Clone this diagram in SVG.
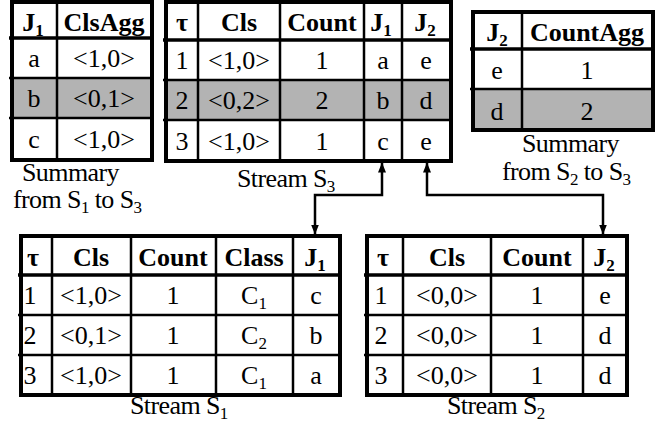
<svg xmlns="http://www.w3.org/2000/svg" width="665" height="426" viewBox="0 0 665 426">
  <style>
    .frame { fill: none; stroke: #000; stroke-width: 4; }
    .grid { stroke: #000; stroke-width: 2.5; }
    .shade { fill: #b3b3b3; }
    text { font-family: "Liberation Serif", "Times New Roman", serif; font-size: 26px; fill: #000; text-anchor: middle; }
    .hd { font-weight: bold; }
    .cap { text-anchor: start; letter-spacing: -0.6px; }
    .sub { font-size: 17px; }
    .wire { fill: none; stroke: #000; stroke-width: 2.5; }
  </style>
  <defs>
    <marker id="tip" viewBox="0 0 10 8" refX="9.5" refY="4" markerWidth="10" markerHeight="8" markerUnits="userSpaceOnUse" orient="auto-start-reverse">
      <path d="M0,0 L10,4 L0,8 Z" fill="#000"/>
    </marker>
  </defs>
  <rect width="665" height="426" fill="#fff"/>

  <!-- Summary from S1 to S3 -->
  <g id="summary-s1-s3">
    <rect class="shade" x="12" y="78" width="140" height="40"/>
    <line class="grid" x1="57" y1="0" x2="57" y2="160"/>
    <line class="grid" x1="9" y1="38" x2="152" y2="38" style="stroke-width:3.5"/>
    <line class="grid" x1="9" y1="78" x2="152" y2="78"/>
    <line class="grid" x1="9" y1="118" x2="152" y2="118"/>
    <rect class="frame" x="12" y="2" width="140" height="158"/>
    <text class="hd" x="33" y="31">J<tspan class="sub" dy="5">1</tspan></text>
    <text class="hd" x="104" y="31">ClsAgg</text>
    <text x="34" y="67">a</text><text x="104" y="67">&lt;1,0&gt;</text>
    <text x="34" y="107">b</text><text x="104" y="107">&lt;0,1&gt;</text>
    <text x="34" y="148">c</text><text x="104" y="148">&lt;1,0&gt;</text>
    <text class="cap" x="22" y="181">Summary</text>
    <text class="cap" x="13" y="208">from S<tspan class="sub" dy="5">1</tspan><tspan dy="-5"> to S</tspan><tspan class="sub" dy="5">3</tspan></text>
  </g>

  <!-- Stream S3 -->
  <g id="stream-s3">
    <rect class="shade" x="166" y="80" width="285" height="40"/>
    <line class="grid" x1="198" y1="0" x2="198" y2="161"/>
    <line class="grid" x1="280" y1="0" x2="280" y2="161"/>
    <line class="grid" x1="364" y1="0" x2="364" y2="161"/>
    <line class="grid" x1="402" y1="0" x2="402" y2="161"/>
    <line class="grid" x1="163" y1="40" x2="451" y2="40" style="stroke-width:3.5"/>
    <line class="grid" x1="163" y1="80" x2="451" y2="80"/>
    <line class="grid" x1="163" y1="120" x2="451" y2="120"/>
    <rect class="frame" x="166" y="2" width="285" height="159"/>
    <text class="hd" x="182" y="31">τ</text>
    <text class="hd" x="239" y="31">Cls</text>
    <text class="hd" x="322" y="31">Count</text>
    <text class="hd" x="381" y="31">J<tspan class="sub" dy="5">1</tspan></text>
    <text class="hd" x="425" y="31">J<tspan class="sub" dy="5">2</tspan></text>
    <text x="182" y="69">1</text><text x="239" y="69">&lt;1,0&gt;</text><text x="322" y="69">1</text><text x="383" y="69">a</text><text x="426" y="69">e</text>
    <text x="182" y="109">2</text><text x="239" y="109">&lt;0,2&gt;</text><text x="322" y="109">2</text><text x="383" y="109">b</text><text x="426" y="109">d</text>
    <text x="182" y="150">3</text><text x="239" y="150">&lt;1,0&gt;</text><text x="322" y="150">1</text><text x="383" y="150">c</text><text x="426" y="150">e</text>
    <text class="cap" x="237" y="187">Stream S<tspan class="sub" dy="5">3</tspan></text>
  </g>

  <!-- Summary from S2 to S3 -->
  <g id="summary-s2-s3">
    <rect class="shade" x="473" y="89" width="180" height="41"/>
    <line class="grid" x1="522" y1="10" x2="522" y2="130"/>
    <line class="grid" x1="470" y1="49" x2="653" y2="49" style="stroke-width:3.5"/>
    <line class="grid" x1="470" y1="89" x2="653" y2="89"/>
    <rect class="frame" x="473" y="12" width="180" height="118"/>
    <text class="hd" x="497" y="41">J<tspan class="sub" dy="5">2</tspan></text>
    <text class="hd" x="587" y="41">CountAgg</text>
    <text x="497" y="79">e</text><text x="587" y="79">1</text>
    <text x="497" y="120">d</text><text x="587" y="120">2</text>
    <text class="cap" x="522" y="152">Summary</text>
    <text class="cap" x="502" y="180">from S<tspan class="sub" dy="5">2</tspan><tspan dy="-5"> to S</tspan><tspan class="sub" dy="5">3</tspan></text>
  </g>

  <!-- Stream S1 -->
  <g id="stream-s1">
    <line class="grid" x1="52" y1="234" x2="52" y2="395"/>
    <line class="grid" x1="131" y1="234" x2="131" y2="395"/>
    <line class="grid" x1="216" y1="234" x2="216" y2="395"/>
    <line class="grid" x1="293" y1="234" x2="293" y2="395"/>
    <line class="grid" x1="18" y1="275" x2="340" y2="275" style="stroke-width:3.5"/>
    <line class="grid" x1="18" y1="315" x2="340" y2="315"/>
    <line class="grid" x1="18" y1="355" x2="340" y2="355"/>
    <rect class="frame" x="21" y="236" width="319" height="159"/>
    <text class="hd" x="33" y="266">τ</text>
    <text class="hd" x="91" y="266">Cls</text>
    <text class="hd" x="173" y="266">Count</text>
    <text class="hd" x="254" y="266">Class</text>
    <text class="hd" x="315" y="266">J<tspan class="sub" dy="5">1</tspan></text>
    <text x="30" y="304">1</text><text x="91" y="304">&lt;1,0&gt;</text><text x="173" y="304">1</text><text x="254" y="304">C<tspan class="sub" dy="5">1</tspan></text><text x="316" y="304">c</text>
    <text x="30" y="344">2</text><text x="91" y="344">&lt;0,1&gt;</text><text x="173" y="344">1</text><text x="254" y="344">C<tspan class="sub" dy="5">2</tspan></text><text x="316" y="344">b</text>
    <text x="30" y="384">3</text><text x="91" y="384">&lt;1,0&gt;</text><text x="173" y="384">1</text><text x="254" y="384">C<tspan class="sub" dy="5">1</tspan></text><text x="316" y="384">a</text>
    <text class="cap" x="130" y="414">Stream S<tspan class="sub" dy="5">1</tspan></text>
  </g>

  <!-- Stream S2 -->
  <g id="stream-s2">
    <line class="grid" x1="403" y1="234" x2="403" y2="395"/>
    <line class="grid" x1="491" y1="234" x2="491" y2="395"/>
    <line class="grid" x1="583" y1="234" x2="583" y2="395"/>
    <line class="grid" x1="364" y1="275" x2="627" y2="275" style="stroke-width:3.5"/>
    <line class="grid" x1="364" y1="315" x2="627" y2="315"/>
    <line class="grid" x1="364" y1="355" x2="627" y2="355"/>
    <rect class="frame" x="367" y="236" width="260" height="159"/>
    <text class="hd" x="383" y="266">τ</text>
    <text class="hd" x="447" y="266">Cls</text>
    <text class="hd" x="537" y="266">Count</text>
    <text class="hd" x="604" y="266">J<tspan class="sub" dy="5">2</tspan></text>
    <text x="381" y="304">1</text><text x="447" y="304">&lt;0,0&gt;</text><text x="537" y="304">1</text><text x="605" y="304">e</text>
    <text x="381" y="344">2</text><text x="447" y="344">&lt;0,0&gt;</text><text x="537" y="344">1</text><text x="605" y="344">d</text>
    <text x="381" y="384">3</text><text x="447" y="384">&lt;0,0&gt;</text><text x="537" y="384">1</text><text x="605" y="384">d</text>
    <text class="cap" x="447" y="414">Stream S<tspan class="sub" dy="5">2</tspan></text>
  </g>

  <!-- Join links between streams -->
  <g id="connectors">
    <path class="wire" d="M315,234 L315,195 L382,195 L382,163" marker-start="url(#tip)" marker-end="url(#tip)"/>
    <path class="wire" d="M427,163 L427,195 L603,195 L603,234" marker-start="url(#tip)" marker-end="url(#tip)"/>
  </g>
</svg>
